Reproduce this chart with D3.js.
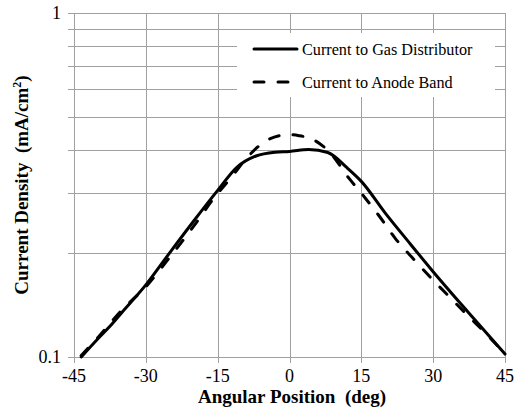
<!DOCTYPE html>
<html>
<head>
<meta charset="utf-8">
<script src="https://cdn.jsdelivr.net/npm/d3@7"></script>
<style>
  html, body { margin: 0; padding: 0; background: #fff; }
  svg { display: block; }
  text { font-family: "Liberation Serif", "Times New Roman", serif; fill: #000; white-space: pre; }
</style>
</head>
<body>
<svg id="chart" width="522" height="414"></svg>
<script>
// Angular positions (deg) and current density (mA/cm^2) for each collector
const gasAngles = [-43.5, -40, -37.5, -35, -30, -25, -20, -15, -11, -7, -3, 0, 4, 8, 12, 15, 20, 25, 30, 37.5, 45];
const gasValues = [0.100, 0.113, 0.1228, 0.1347, 0.162, 0.201, 0.2485, 0.305, 0.356, 0.384, 0.394, 0.396, 0.401, 0.393, 0.355, 0.324, 0.262, 0.215, 0.177, 0.134, 0.102];

const anodeAngles = [-43.5, -40, -35, -30, -25, -20, -16, -12, -9, -5, -2, 0, 2, 5, 8.5, 12.4, 15.8, 19, 22, 26, 29.5, 33.3, 37, 41, 45];
const anodeValues = [0.101, 0.114, 0.137, 0.160, 0.195, 0.240, 0.287, 0.335, 0.378, 0.424, 0.440, 0.443, 0.440, 0.428, 0.392, 0.331, 0.290, 0.254, 0.222, 0.192, 0.170, 0.150, 0.133, 0.117, 0.102];

const xTicks = [-45, -30, -15, 0, 15, 30, 45];
const yGrid = [0.1, 0.2, 0.3, 0.4, 0.5, 0.6, 0.7, 0.8, 0.9, 1];
const yLabels = [0.1, 1];

const seriesNames = ["Current to Gas Distributor", "Current to Anode Band"];

const svg = d3.select("#chart");
const plotLeft = 74, plotRight = 505, plotTop = 13, plotBottom = 357;

const x = d3.scaleLinear().domain([-45, 45]).range([plotLeft, plotRight]);
const y = d3.scaleLog().domain([0.1, 1]).range([plotBottom, plotTop]);

const gridColor = "#a0a0a0";

// horizontal gridlines with short outward ticks
svg.append("g").selectAll("line").data(yGrid).join("line")
  .attr("x1", plotLeft - 6).attr("x2", plotRight)
  .attr("y1", d => Math.round(y(d)) + 0.5).attr("y2", d => Math.round(y(d)) + 0.5)
  .attr("stroke", gridColor).attr("stroke-width", 1);

// vertical gridlines with short outward ticks
svg.append("g").selectAll("line").data(xTicks).join("line")
  .attr("x1", d => Math.round(x(d)) + 0.5).attr("x2", d => Math.round(x(d)) + 0.5)
  .attr("y1", plotTop).attr("y2", plotBottom + 6)
  .attr("stroke", gridColor).attr("stroke-width", 1);

// tick labels
svg.append("g").selectAll("text").data(xTicks).join("text")
  .attr("x", d => x(d)).attr("y", 382)
  .attr("text-anchor", "middle").attr("font-size", 18)
  .text(d => d);

svg.append("g").selectAll("text").data(yLabels).join("text")
  .attr("x", 61).attr("y", d => y(d) + 6)
  .attr("text-anchor", "end").attr("font-size", 18)
  .text(d => d);

// axis titles
svg.append("text")
  .attr("x", 292).attr("y", 403)
  .attr("text-anchor", "middle").attr("font-size", 19).attr("font-weight", "bold")
  .text("Angular Position  (deg)");

const yTitle = svg.append("text")
  .attr("transform", `translate(28,${(plotTop + plotBottom) / 2}) rotate(-90)`)
  .attr("text-anchor", "middle").attr("font-size", 19).attr("font-weight", "bold");
yTitle.append("tspan").text("Current Density  (mA/cm");
yTitle.append("tspan").attr("font-size", 12).attr("dy", -7).text("2");
yTitle.append("tspan").attr("dy", 7).text(")");

// legend panel
svg.append("rect")
  .attr("x", 237).attr("y", 33).attr("width", 258).attr("height", 64)
  .attr("fill", "#fff");

const line = d3.line()
  .x(d => x(d[0])).y(d => y(d[1]))
  .curve(d3.curveMonotoneX);

const anodeData = d3.zip(anodeAngles, anodeValues);
const gasData = d3.zip(gasAngles, gasValues);

svg.append("path").datum(anodeData)
  .attr("d", line).attr("fill", "none")
  .attr("stroke", "#000").attr("stroke-width", 3)
  .attr("stroke-dasharray", "10,14").attr("stroke-linecap", "round");

svg.append("path").datum(gasData)
  .attr("d", line).attr("fill", "none")
  .attr("stroke", "#000").attr("stroke-width", 3)
  .attr("stroke-linecap", "round");

// legend entries
const legend = svg.append("g");
const rows = [
  { name: seriesNames[0], y: 49, dash: null },
  { name: seriesNames[1], y: 82, dash: "10,14" }
];
rows.forEach(r => {
  legend.append("line")
    .attr("x1", 254).attr("x2", 297).attr("y1", r.y).attr("y2", r.y)
    .attr("stroke", "#000").attr("stroke-width", 3)
    .attr("stroke-linecap", "round")
    .attr("stroke-dasharray", r.dash);
  legend.append("text")
    .attr("x", 302).attr("y", r.y + 6)
    .attr("font-size", 16.2)
    .text(r.name);
});
</script>
</body>
</html>
